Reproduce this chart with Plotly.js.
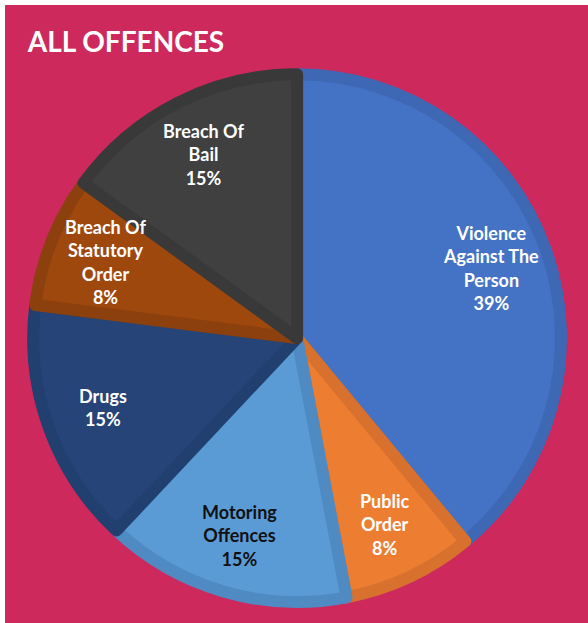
<!DOCTYPE html>
<html>
<head>
<meta charset="utf-8">
<script src="https://cdn.plot.ly/plotly-3.0.1.min.js"></script>
<style>
  html, body { margin: 0; padding: 0; background: #ffffff; }
  #chart { position: absolute; left: 5px; top: 5px; width: 583px; height: 618px; }
</style>
</head>
<body>
<div id="chart"></div>
<script>
const categories = ["Violence Against The Person", "Public Order", "Motoring Offences", "Drugs", "Breach Of Statutory Order", "Breach Of Bail"];
const displayLabels = ["Violence<br>Against The<br>Person", "Public<br>Order", "Motoring<br>Offences", "Drugs", "Breach Of<br>Statutory<br>Order", "Breach Of<br>Bail"];
const shares = [39, 8, 15, 15, 8, 15];
const sliceColors = ["#4472C4", "#ED7D31", "#5B9BD5", "#264478", "#9E480E", "#404040"];
const edgeColors = ["#3E68B4", "#D7712D", "#4F8AC2", "#21406F", "#8C400E", "#393939"];
const textColors = ["#ffffff", "#ffffff", "#111111", "#ffffff", "#ffffff", "#ffffff"];

const W = 583, H = 618;
const dom = { x: [0.048, 0.954], y: [0.034, 0.888] };
const pieR = Math.min((dom.x[1] - dom.x[0]) * W, (dom.y[1] - dom.y[0]) * H) / 2;
const cx = (dom.x[0] + dom.x[1]) / 2, cy = (dom.y[0] + dom.y[1]) / 2;
const labelFrac = 0.78;

const trace = {
  type: "pie",
  labels: categories,
  values: shares,
  textinfo: "none",
  hoverinfo: "label+percent",
  sort: false,
  direction: "clockwise",
  rotation: 0,
  marker: { colors: sliceColors, line: { color: edgeColors, width: 12 } },
  domain: dom,
  showlegend: false
};

// Label positions derived from the data: mid-angle of each slice (clockwise from 12 o'clock)
const total = shares.reduce((a, b) => a + b, 0);
let cum = 0;
const annotations = shares.map((v, i) => {
  const mid = (cum + v / 2) / total * 2 * Math.PI;
  cum += v;
  const pct = Math.round(v / total * 100) + "%";
  return {
    xref: "paper", yref: "paper",
    x: cx + labelFrac * pieR * Math.sin(mid) / W,
    y: cy + labelFrac * pieR * Math.cos(mid) / H,
    xanchor: "center", yanchor: "middle",
    text: "<b>" + displayLabels[i] + "<br>" + pct + "</b>",
    showarrow: false,
    align: "center",
    font: { family: "Lato, 'Open Sans', sans-serif", size: 18, color: textColors[i] }
  };
});

const layout = {
  width: W,
  height: H,
  margin: { l: 0, r: 0, t: 0, b: 0 },
  paper_bgcolor: "#CD295D",
  plot_bgcolor: "#CD295D",
  title: {
    text: "<b>ALL OFFENCES</b>",
    x: 0.039, xanchor: "left", xref: "container",
    y: 0.94, yanchor: "middle", yref: "container",
    font: { family: "Lato, 'Open Sans', sans-serif", size: 28, color: "#ffffff" }
  },
  annotations: annotations,
  showlegend: false
};

Plotly.newPlot("chart", [trace], layout, { displayModeBar: false, staticPlot: true });
</script>
</body>
</html>
